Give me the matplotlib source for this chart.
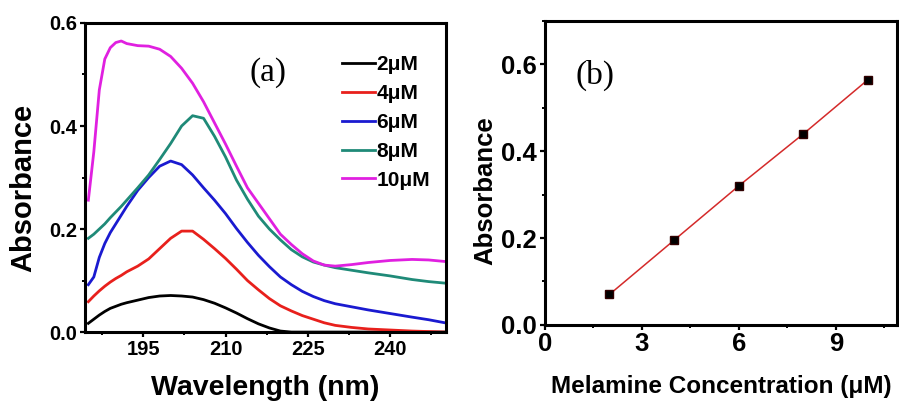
import numpy as np
import matplotlib
matplotlib.use("Agg")
import matplotlib.pyplot as plt
from matplotlib.ticker import MultipleLocator

# UV-vis spectra (panel a)
wavelength = [185, 186, 187, 188, 189, 190, 191, 192, 194, 196, 198, 200, 202, 204, 206, 208,
              210, 212, 214, 216, 218, 220, 222, 224, 226, 228, 230, 233, 236, 240, 244, 247, 250]
abs_2uM = [0.017, 0.025, 0.033, 0.040, 0.046, 0.050, 0.054, 0.057, 0.062, 0.067, 0.070, 0.071, 0.070,
           0.068, 0.063, 0.056, 0.047, 0.037, 0.026, 0.016, 0.008, 0.002, 0.0, 0.0, 0.0, 0.0, 0.0,
           0.0, 0.0, 0.0, 0.0, 0.0, 0.0]
abs_4uM = [0.059, 0.070, 0.080, 0.089, 0.097, 0.104, 0.110, 0.117, 0.128, 0.142, 0.162, 0.182, 0.196,
           0.196, 0.180, 0.162, 0.143, 0.122, 0.100, 0.082, 0.065, 0.051, 0.041, 0.032, 0.025, 0.018,
           0.013, 0.009, 0.006, 0.004, 0.002, 0.001, 0.0]
abs_6uM = [0.092, 0.107, 0.145, 0.172, 0.193, 0.210, 0.227, 0.244, 0.275, 0.300, 0.322, 0.332, 0.325,
           0.305, 0.280, 0.256, 0.230, 0.201, 0.174, 0.149, 0.127, 0.107, 0.092, 0.079, 0.069, 0.061,
           0.055, 0.049, 0.043, 0.036, 0.029, 0.024, 0.018]
abs_8uM = [0.182, 0.190, 0.200, 0.210, 0.222, 0.233, 0.244, 0.256, 0.280, 0.305, 0.335, 0.366, 0.400,
           0.420, 0.415, 0.380, 0.340, 0.295, 0.258, 0.225, 0.200, 0.179, 0.160, 0.146, 0.136, 0.130,
           0.125, 0.120, 0.115, 0.109, 0.102, 0.098, 0.095]
abs_10uM = [0.256, 0.350, 0.470, 0.530, 0.552, 0.562, 0.565, 0.560, 0.556, 0.555, 0.549, 0.535, 0.512,
            0.483, 0.447, 0.406, 0.365, 0.322, 0.280, 0.250, 0.220, 0.190, 0.170, 0.152, 0.138, 0.130,
            0.128, 0.131, 0.135, 0.139, 0.141, 0.140, 0.137]
labels = ["2μM", "4μM", "6μM", "8μM", "10μM"]
colors = ["black", "#e8201c", "#1a1ad0", "#1f8a78", "#e020e0"]

# calibration (panel b)
conc = [2, 4, 6, 8, 10]
abs_peak = [0.070, 0.195, 0.320, 0.440, 0.565]

plt.rcParams["font.family"] = ["Liberation Sans", "DejaVu Sans"]
plt.rcParams["font.weight"] = "bold"

fig = plt.figure(figsize=(8.99, 4.03), dpi=100)
ax1 = fig.add_axes([0.0946, 0.176, 0.4016, 0.767])
ax2 = fig.add_axes([0.606, 0.194, 0.392, 0.754])


def style(ax, tick_size):
    for s in ax.spines.values():
        s.set_linewidth(2.2)
    ax.tick_params(which="major", direction="out", length=3.5, width=1.6, labelsize=tick_size, pad=2)
    ax.tick_params(which="minor", direction="out", length=2.5, width=1.4)
    for t in ax.get_xticklabels() + ax.get_yticklabels():
        t.set_fontweight("bold")


# panel (a)
for y, c, lab in zip([abs_2uM, abs_4uM, abs_6uM, abs_8uM, abs_10uM], colors, labels):
    ax1.plot(wavelength, y, color=c, lw=2.0, label=lab)
ax1.set_xlim(184.4, 250.2)
ax1.set_ylim(0, 0.6)
ax1.xaxis.set_major_locator(MultipleLocator(15))
ax1.xaxis.set_minor_locator(MultipleLocator(7.5))
ax1.yaxis.set_major_locator(MultipleLocator(0.2))
ax1.yaxis.set_minor_locator(MultipleLocator(0.1))
ax1.yaxis.set_major_formatter(plt.FormatStrFormatter("%.1f"))
style(ax1, 14.5)
ax1.set_xlabel("Wavelength (nm)", fontsize=20.5, fontweight="bold", labelpad=12)
ax1.set_ylabel("Absorbance", fontsize=21, fontweight="bold")
ax1.yaxis.set_label_coords(-0.132, 0.466)
ax1.legend(loc="upper left", bbox_to_anchor=(0.712, 0.895), frameon=False, fontsize=15,
           handlelength=1.6, handletextpad=0.05, labelspacing=0.47, borderpad=0, borderaxespad=0)
ax1.text(0.507, 0.838, "(a)", transform=ax1.transAxes, ha="center", va="center",
         fontsize=24, family="Liberation Serif", fontweight="normal")

# panel (b)
ax2.plot(conc, abs_peak, color="#d42a2a", lw=1.1, marker="s", markersize=6,
         markerfacecolor="black", markeredgecolor="#300000")
ax2.set_xlim(0, 10.9)
ax2.set_ylim(0, 0.7)
ax2.xaxis.set_major_locator(MultipleLocator(3))
ax2.xaxis.set_minor_locator(MultipleLocator(1.5))
ax2.yaxis.set_major_locator(MultipleLocator(0.2))
ax2.yaxis.set_minor_locator(MultipleLocator(0.1))
ax2.yaxis.set_major_formatter(plt.FormatStrFormatter("%.1f"))
style(ax2, 18.5)
ax2.set_xlabel("Melamine Concentration (μM)", fontsize=17.5, fontweight="bold", labelpad=13)
ax2.set_ylabel("Absorbance", fontsize=18.5, fontweight="bold")
ax2.yaxis.set_label_coords(-0.135, 0.44)
ax2.text(0.142, 0.822, "(b)", transform=ax2.transAxes, ha="center", va="center",
         fontsize=24, family="Liberation Serif", fontweight="normal")

fig.savefig("out.png", dpi=100)
